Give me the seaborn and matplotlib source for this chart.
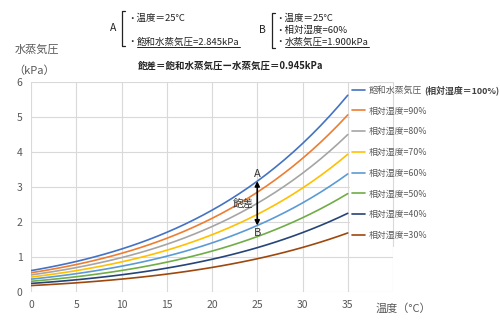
import numpy as np
import pandas as pd
import seaborn as sns
import matplotlib.pyplot as plt
from matplotlib.lines import Line2D
from matplotlib.patches import Rectangle

# Saturated vapour pressure (kPa) at each whole degree, 0–35 °C
temps = list(range(0, 36))
sat_kpa = [0.611, 0.657, 0.706, 0.758, 0.813, 0.872, 0.935, 1.002, 1.073, 1.148,
           1.228, 1.312, 1.402, 1.497, 1.598, 1.705, 1.818, 1.937, 2.064, 2.197,
           2.338, 2.486, 2.643, 2.809, 2.983, 3.167, 3.361, 3.565, 3.780, 4.005,
           4.243, 4.493, 4.755, 5.031, 5.320, 5.624]
rel_humidity = [100, 90, 80, 70, 60, 50, 40, 30]
series_labels = ["飽和水蒸気圧", "相対湿度=90%", "相対湿度=80%", "相対湿度=70%",
                 "相対湿度=60%", "相対湿度=50%", "相対湿度=40%", "相対湿度=30%"]
colors = ["#4472C4", "#ED7D31", "#A5A5A5", "#FFC000",
          "#5B9BD5", "#70AD47", "#264478", "#9E480E"]
x_ticks = [0, 5, 10, 15, 20, 25, 30, 35]
y_ticks = [0, 1, 2, 3, 4, 5, 6]

rows = []
for rh, lab in zip(rel_humidity, series_labels):
    for t, s in zip(temps, sat_kpa):
        rows.append({"temp": t, "kpa": s * rh / 100.0, "series": lab})
df = pd.DataFrame(rows)

sns.set_theme(style="white")
plt.rcParams["font.family"] = ["Noto Sans CJK JP", "DejaVu Sans"]

fig = plt.figure(figsize=(5.0, 3.29), dpi=100)
ax = fig.add_axes([0.062, 0.1125, 0.724, 0.638])

sns.lineplot(data=df, x="temp", y="kpa", hue="series", hue_order=series_labels,
             palette=colors, linewidth=1.2, ax=ax, legend=False, zorder=3)

ax.set_xlim(0, 40)
ax.set_ylim(0, 6)
ax.set_xticks(x_ticks + [40])
ax.set_xticklabels([str(v) for v in x_ticks] + [""])
ax.set_yticks(y_ticks)
ax.grid(True, color="#D9D9D9", linewidth=0.8, zorder=0)
for sp in ax.spines.values():
    sp.set_visible(False)
ax.tick_params(axis="both", length=0, labelsize=7.5, colors="#595959", pad=6)
ax.set_xlabel("")
ax.set_ylabel("")

# Vapour pressure deficit at 25 °C between saturation (A) and 60 % RH (B)
t_ref = 25
a_val = sat_kpa[temps.index(t_ref)]
b_val = a_val * 0.60
ax.annotate("", xy=(t_ref, a_val), xytext=(t_ref, b_val),
            arrowprops=dict(arrowstyle="<|-|>", color="black", lw=1.2,
                            mutation_scale=7, shrinkA=0, shrinkB=0), zorder=5)
ax.text(t_ref, a_val + 0.05, "A", ha="center", va="bottom", fontsize=8, color="#333333")
ax.text(t_ref, b_val - 0.08, "B", ha="center", va="top", fontsize=8, color="#333333")
ax.text(t_ref - 0.4, (a_val + b_val) / 2, "飽差", ha="right", va="center",
        fontsize=7.5, color="#333333")

# White panel behind the legend; the x=40 gridline stays visible over it
fig.add_artist(Rectangle((350 / 500, 1 - 246 / 329), 150 / 500, 162 / 329,
                         transform=fig.transFigure, facecolor="white",
                         edgecolor="none", zorder=2))
fig.add_artist(Line2D([393 / 500, 393 / 500], [1 - 246 / 329, 1 - 82 / 329],
                      color="#D9D9D9", lw=0.8, zorder=2.5))

handles = [Line2D([0], [0], color=c, lw=1.2) for c in colors]
leg = fig.legend(handles, series_labels, loc="upper left",
                 bbox_to_anchor=(350 / 500, 1 - 84 / 329),
                 frameon=False, fontsize=6.4, handlelength=1.5, handletextpad=0.4,
                 labelspacing=1.32, borderpad=0.2, borderaxespad=0)
leg.set_zorder(3)
for txt in leg.get_texts():
    txt.set_color("#595959")
fig.canvas.draw()
first = leg.get_texts()[0]
bb = first.get_window_extent()
fig.text(424 / 500, (bb.y0 + bb.y1) / 2 / fig.bbox.height,
         "(相対湿度＝100%)", fontsize=6.4, fontweight="bold", color="#404040",
         va="center", ha="left", zorder=4)

# Axis titles
fig.text(15 / 500, 1 - 50 / 329, "水蒸気圧", fontsize=8, color="#595959", va="center")
fig.text(13 / 500, 1 - 71 / 329, "（kPa）", fontsize=8, color="#595959", va="center")
fig.text(376 / 500, 1 - 309 / 329, "温度（°C）", fontsize=8, color="#595959", va="center")

# Header notes for points A and B
tc = "#222222"
fs = 6.8
fig.text(113 / 500, 1 - 28 / 329, "A", fontsize=7.5, color=tc, va="center", ha="center")
fig.add_artist(Line2D([125 / 500, 122 / 500, 122 / 500, 125 / 500],
                      [1 - 11 / 329, 1 - 11 / 329, 1 - 46 / 329, 1 - 46 / 329],
                      color=tc, lw=0.9))
fig.text(127 / 500, 1 - 18 / 329, "・温度＝25°C", fontsize=fs, color=tc, va="center")
fig.text(127 / 500, 1 - 42 / 329, "・", fontsize=fs, color=tc, va="center")
ta = fig.text(137 / 500, 1 - 42 / 329, "飽和水蒸気圧=2.845kPa", fontsize=fs,
              color=tc, va="center")

fig.text(262 / 500, 1 - 30 / 329, "B", fontsize=7.5, color=tc, va="center", ha="center")
fig.add_artist(Line2D([275 / 500, 272 / 500, 272 / 500, 275 / 500],
                      [1 - 13 / 329, 1 - 13 / 329, 1 - 48 / 329, 1 - 48 / 329],
                      color=tc, lw=0.9))
fig.text(275 / 500, 1 - 18 / 329, "・温度＝25°C", fontsize=fs, color=tc, va="center")
fig.text(275 / 500, 1 - 30 / 329, "・相対湿度=60%", fontsize=fs, color=tc, va="center")
fig.text(275 / 500, 1 - 42 / 329, "・", fontsize=fs, color=tc, va="center")
tb = fig.text(285 / 500, 1 - 42 / 329, "水蒸気圧=1.900kPa", fontsize=fs,
              color=tc, va="center")

fig.canvas.draw()
for t in (ta, tb):
    b = t.get_window_extent()
    y = (b.y0 - 0.5) / fig.bbox.height
    fig.add_artist(Line2D([b.x0 / fig.bbox.width, b.x1 / fig.bbox.width], [y, y],
                          color=tc, lw=0.7))

fig.text(138 / 500, 1 - 66 / 329, "飽差＝飽和水蒸気圧ー水蒸気圧＝0.945kPa",
         fontsize=fs, color=tc, va="center", fontweight="bold")

fig.savefig("out.png", dpi=100)
